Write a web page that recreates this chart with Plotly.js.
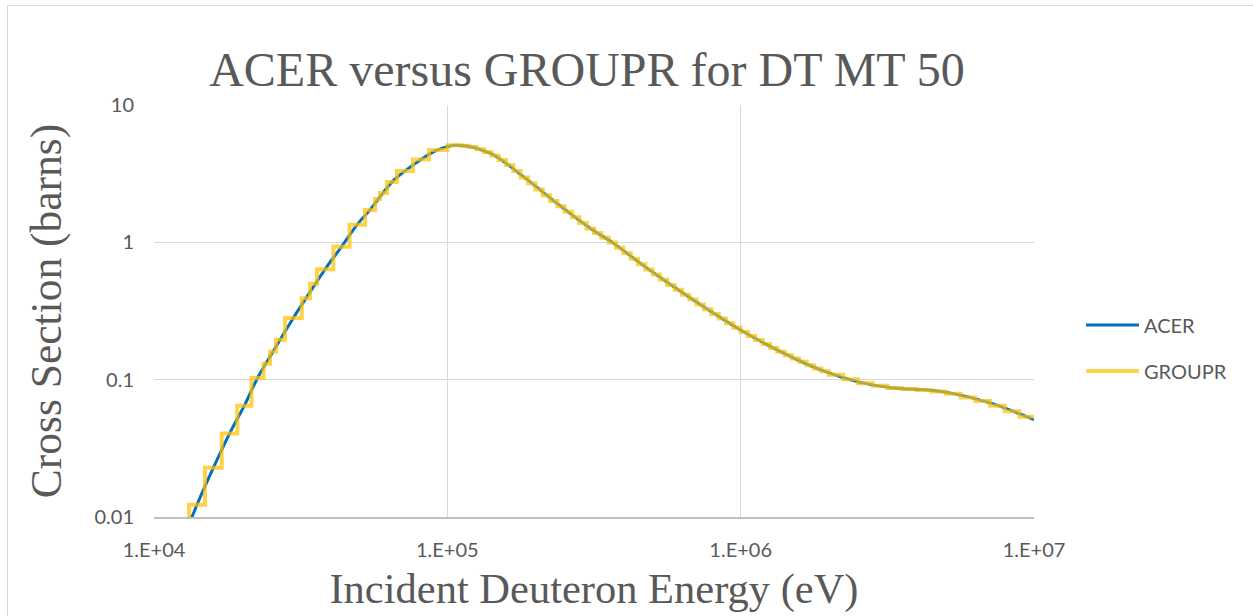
<!DOCTYPE html>
<html>
<head>
<meta charset="utf-8">
<script src="https://cdn.plot.ly/plotly-3.0.1.min.js"></script>
<style>
  html, body { margin: 0; padding: 0; background: #fff; }
  #wrap { position: relative; width: 1253px; height: 616px; overflow: hidden; }
  #chart { width: 1253px; height: 616px; }
  #frame { position: absolute; left: 7px; top: 5px; width: 1260px; height: 640px;
           border-left: 1.5px solid #D9D9D9; border-top: 1.5px solid #D9D9D9; pointer-events: none; }
</style>
</head>
<body>
<div id="wrap"><div id="chart"></div><div id="frame"></div></div>
<script>
// ACER pointwise cross section (eV, barns)
const acerE = [12800, 13450, 14020, 15930, 18090, 20320, 22540, 25450, 29850, 32970, 38280, 43540, 49210, 54500,
  64780, 71760, 81370, 92600, 107100, 139800, 181600, 236000, 306600, 368100, 453900, 589600, 766200, 995400,
  1362000, 1865000, 2554000, 3316000, 4424000, 5311000, 7085000, 10000000];
const acerXS = [0.0080, 0.00992, 0.01233, 0.0228, 0.0405, 0.0647, 0.1029, 0.1598, 0.2811, 0.3915, 0.6364, 0.927, 1.341, 1.723,
  2.754, 3.311, 4.014, 4.707, 5.10, 4.454, 3.009, 1.928, 1.268, 0.987, 0.706, 0.477, 0.3284, 0.2310,
  0.1606, 0.1182, 0.0956, 0.0871, 0.0836, 0.0791, 0.0677, 0.0512];

// GROUPR group boundaries (eV) and group-averaged cross sections (barns)
const grpBounds = [11500, 13160, 14920, 17010, 19230, 21500, 23620, 24860, 26060, 27960, 31890, 34030, 35950, 40870,
  46400, 52410, 56690, 58960, 62300, 67370, 76380, 86600,
  100000, 105900, 112200, 118900, 125900, 133400, 141300, 149600, 158500, 167900,
  177800, 188400, 199500, 211300, 223900, 237100, 251200, 266100, 281800, 298500,
  316200, 335000, 354800, 375800, 398100, 421700, 446700, 473200, 501200, 530900,
  562300, 595700, 631000, 668300, 707900, 749900, 794300, 841400, 891300, 944100,
  1000000, 1059000, 1122000, 1189000, 1259000, 1334000, 1413000, 1496000, 1585000, 1679000,
  1778000, 1884000, 1995000, 2239000, 2512000, 2818000, 3162000, 3548000, 3981000, 4467000,
  5012000, 5623000, 6310000, 7079000, 7943000, 8913000, 10000000];
const grpXS = [0.0065, 0.0123, 0.0228, 0.0405, 0.0647, 0.1028, 0.1306, 0.160, 0.1955, 0.281, 0.3915, 0.499, 0.636,
  0.927, 1.341, 1.723, 2.07, 2.29, 2.754, 3.311, 4.014, 4.707,
  5.09, 5.10, 5.05, 4.94, 4.76, 4.54, 4.28, 3.97, 3.65, 3.30,
  2.97, 2.69, 2.43, 2.20, 2.00, 1.828, 1.667, 1.520, 1.384, 1.262,
  1.167, 1.078, 0.998, 0.912, 0.832, 0.760, 0.693, 0.635, 0.583, 0.535,
  0.490, 0.451, 0.415, 0.383, 0.352, 0.325, 0.301, 0.279, 0.258, 0.239,
  0.222, 0.208, 0.1945, 0.182, 0.170, 0.1596, 0.1509, 0.1426, 0.1349, 0.1276,
  0.1205, 0.1153, 0.1086, 0.1005, 0.0942, 0.0904, 0.0869, 0.0855, 0.0841, 0.0819,
  0.0791, 0.0743, 0.0698, 0.0646, 0.0589, 0.0536];

const xTickVals = [1e4, 1e5, 1e6, 1e7];
const xTickText = ['1.E+04', '1.E+05', '1.E+06', '1.E+07'];
const yTickVals = [0.01, 0.1, 1, 10];
const yTickText = ['0.01', '0.1', '1', '10'];

const grpY = grpXS.concat([grpXS[grpXS.length - 1]]);

const traces = [
  { x: acerE, y: acerXS, name: 'ACER', type: 'scatter', mode: 'lines', legendgroup: 'a',
    line: { color: '#0070C0', width: 3, shape: 'spline', smoothing: 1 } },
  { x: grpBounds, y: grpY, name: 'GROUPR', type: 'scatter', mode: 'lines', legendgroup: 'g',
    line: { color: 'rgba(255,192,0,0.72)', width: 4, shape: 'hv' } }
];

const gray = '#595959';
const layout = {
  width: 1253, height: 616,
  margin: { l: 154, r: 219, t: 105, b: 98.5, pad: 0 },
  paper_bgcolor: '#fff', plot_bgcolor: '#fff',
  title: { text: 'ACER versus GROUPR for DT MT 50', font: { family: 'Liberation Serif', size: 48, color: gray },
           x: 587 / 1253, xref: 'container', xanchor: 'center', y: 0.888, yref: 'container', yanchor: 'middle' },
  xaxis: { type: 'log', range: [4, 7], tickvals: xTickVals, ticktext: xTickText,
           showgrid: true, gridcolor: '#D9D9D9', gridwidth: 1.5,
           showline: true, linecolor: '#BFBFBF', linewidth: 1.5, zeroline: false, ticks: '',
           ticklabelstandoff: 14,
           tickfont: { family: 'Lato', size: 20, color: gray },
           title: { text: 'Incident Deuteron Energy (eV)', font: { family: 'Liberation Serif', size: 42.5, color: gray }, standoff: 13 } },
  yaxis: { type: 'log', range: [-2, 1], tickvals: yTickVals, ticktext: yTickText,
           showgrid: true, gridcolor: '#D9D9D9', gridwidth: 1.5,
           showline: false, zeroline: false, ticks: '',
           ticklabelstandoff: 19,
           tickfont: { family: 'Lato', size: 20, color: gray },
           title: { text: 'Cross Section (barns)', font: { family: 'Liberation Serif', size: 43.5, color: gray }, standoff: 19 } },
  legend: { x: 1081 / 1253, xref: 'container', xanchor: 'left', y: 1 - 348 / 616, yref: 'container', yanchor: 'middle',
            font: { family: 'Lato', size: 20, color: gray }, bgcolor: 'rgba(0,0,0,0)',
            traceorder: 'grouped', tracegroupgap: 17, itemwidth: 53 },
  showlegend: true
};

Plotly.newPlot('chart', traces, layout, { displayModeBar: false, staticPlot: true });
</script>
</body>
</html>
